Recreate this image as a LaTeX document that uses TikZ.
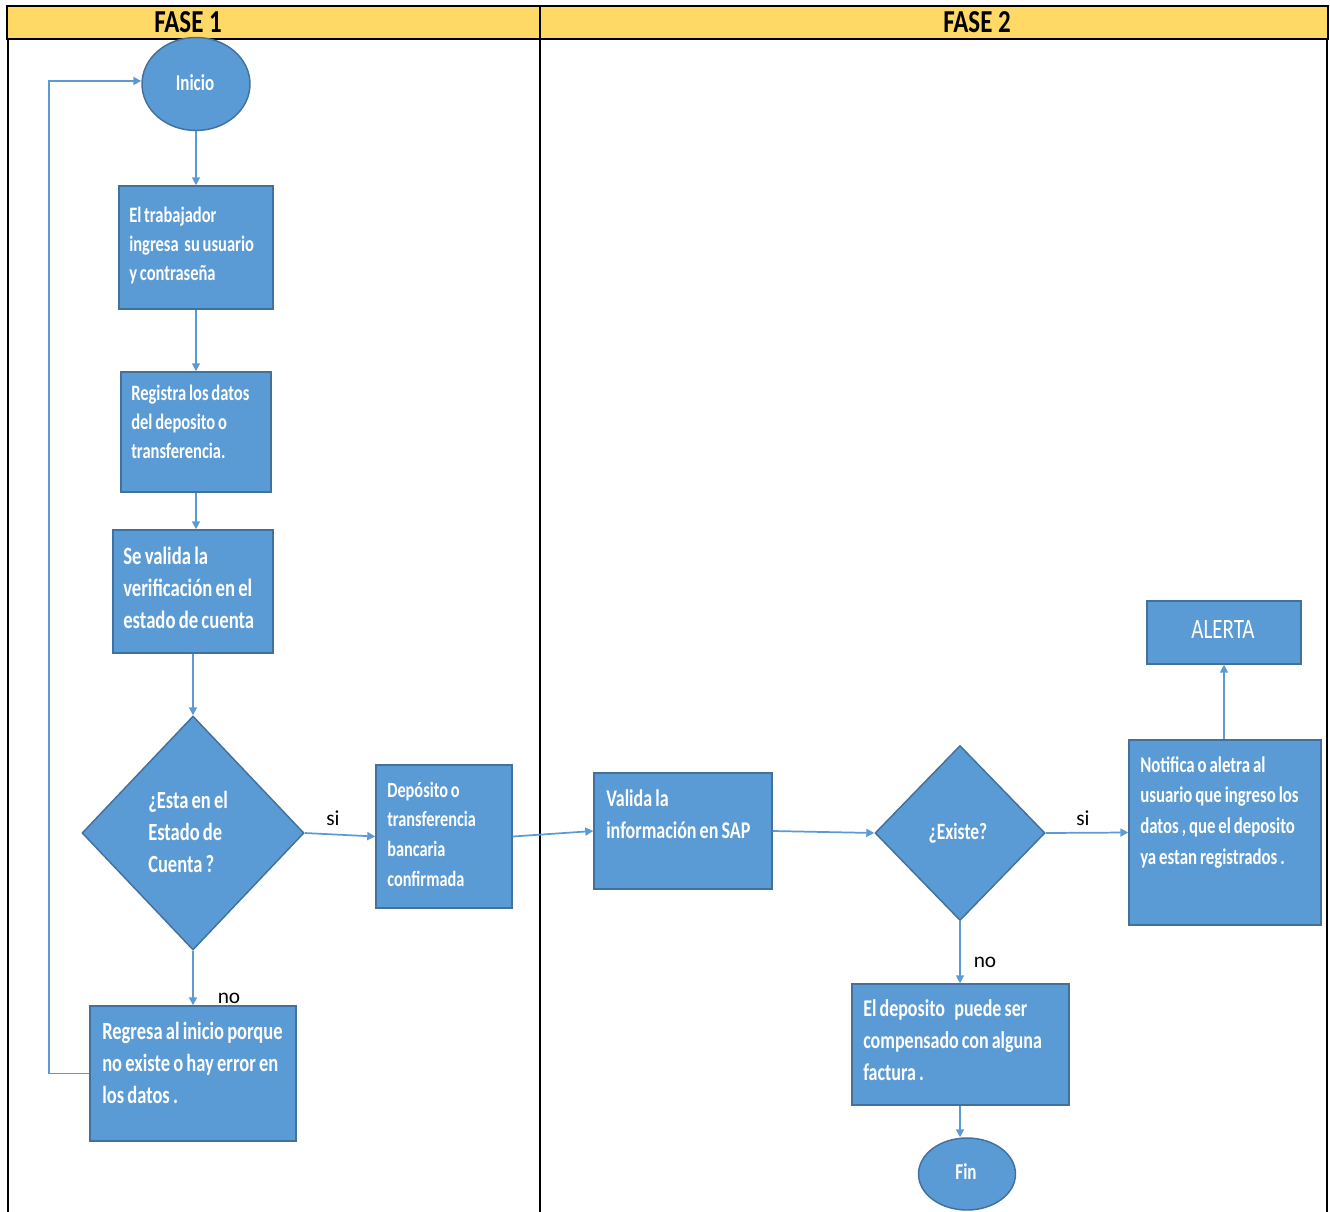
\documentclass[tikz,border=0pt]{standalone}
\usepackage{fontspec}
\setmainfont{Carlito}
\newfontfamily\cond[FakeStretch=0.75]{Carlito}
\newfontfamily\hdr[FakeStretch=0.78]{Carlito}
\newcommand\tightsp{\fontdimen2\font 0.13em\relax\spaceskip 0.13em plus 0.02em\relax\xspaceskip 0.15em\relax}
\usetikzlibrary{shapes.geometric,arrows.meta}
\definecolor{boxblue}{HTML}{5B9BD5}
\definecolor{boxedge}{HTML}{41719C}
\definecolor{hdryellow}{HTML}{FFD966}
\definecolor{arrowblue}{HTML}{5B9BD5}
\begin{document}
\begin{tikzpicture}[x=0.75pt,y=-0.75pt,
 box/.style={rectangle, draw=boxedge, fill=boxblue, line width=1.1pt, inner sep=0},
 dia/.style={diamond, draw=boxedge, fill=boxblue, line width=1.1pt, inner sep=0},
 ell/.style={ellipse, draw=boxedge, fill=boxblue, line width=1.1pt, inner sep=0},
 txt/.style n args={2}{text=white, inner sep=0, anchor=base west, text width=220pt, font=\cond\bfseries\fontsize{#1}{#2}\selectfont, execute at begin node=\tightsp},
 ctxt/.style={text=white, inner sep=0, anchor=center, font=\cond\bfseries\fontsize{#1}{#1}\selectfont},
 flow/.style={draw=arrowblue, line width=1.3pt, -{Triangle[width=6pt,length=6pt]}},
 lbl/.style={inner sep=0, text=black, font=\fontsize{16}{18}\selectfont},
 lane/.style={draw=black, line width=1.5pt},
 hdrtxt/.style={inner sep=0, text=black, font=\hdr\bfseries\fontsize{24}{24}\selectfont}]
\useasboundingbox (0,0) rectangle (1330,1212);
% swimlanes
\fill[hdryellow] (7,6) rectangle (1328,39);
\draw[lane] (7,6) rectangle (1328,39);
\draw[lane] (8,39) -- (8,1212);
\draw[lane] (540,6) -- (540,1212);
\draw[lane] (1327,39) -- (1327,1212);
\node[hdrtxt] (h1) at (188,22) {FASE 1};
\node[hdrtxt] (h2) at (977,22) {FASE 2};
% shapes
\node[ell, minimum width=108*0.75pt, minimum height=93*0.75pt] (inicio) at (196,84) {};
\node[ctxt=17] (inicio-t) at (195,83) {Inicio};
\node[box, minimum width=154*0.75pt, minimum height=123*0.75pt] (b1) at (196,247.5) {};
\node[txt={16.5}{21.75}] (b1-t) at (129,222.5) {El trabajador\\ingresa\ \ su usuario\\y contraseña};
\node[box, minimum width=150*0.75pt, minimum height=120*0.75pt] (b2) at (196,432) {};
\node[txt={16.5}{22}] (b2-t) at (131,400) {Registra los datos\\del deposito o\\transferencia.};
\node[box, minimum width=160*0.75pt, minimum height=123*0.75pt] (b3) at (193,591.5) {};
\node[txt={18.7}{24}] (b3-t) at (123,564) {Se valida la\\verificación en el\\estado de cuenta};
\node[dia, minimum width=222*0.75pt, minimum height=234*0.75pt] (d1) at (193,833) {};
\node[txt={18.5}{24}] (d1-t) at (148,808) {¿Esta en el\\Estado de\\Cuenta ?};
\node[box, minimum width=136*0.75pt, minimum height=143*0.75pt] (dep) at (444,836.5) {};
\node[txt={16.3}{22.3}] (dep-t) at (387,797) {Depósito o\\transferencia\\bancaria\\confirmada};
\node[box, minimum width=206*0.75pt, minimum height=135*0.75pt] (reg) at (193,1073.5) {};
\node[txt={18.5}{24}] (reg-t) at (102,1039) {Regresa al inicio porque\\no existe o hay error en\\los datos .};
\node[box, minimum width=178*0.75pt, minimum height=116*0.75pt] (val) at (683,831) {};
\node[txt={18}{24}] (val-t) at (606,806) {Valida la\\información en SAP};
\node[dia, minimum width=170*0.75pt, minimum height=175*0.75pt] (d2) at (960,833) {};
\node[ctxt=17.5] (d2-t) at (958,833) {¿Existe?};
\node[box, minimum width=192*0.75pt, minimum height=185*0.75pt] (noti) at (1225,832.5) {};
\node[txt={16.8}{23}] (noti-t) at (1140,772) {Notifica o aletra al\\usuario que ingreso los\\datos , que el deposito\\ya estan registrados .};
\node[box, minimum width=154*0.75pt, minimum height=63*0.75pt] (alerta) at (1224,632.5) {};
\node[text=white, inner sep=0, font=\cond\fontsize{21}{21}\selectfont] (alerta-t) at (1223,630) {ALERTA};
\node[box, minimum width=217*0.75pt, minimum height=121*0.75pt] (edep) at (960.5,1044.5) {};
\node[txt={18}{24}] (edep-t) at (863,1016) {El deposito\ \ \ puede ser\\compensado con alguna\\factura .};
\node[ell, minimum width=97*0.75pt, minimum height=72*0.75pt] (fin) at (967,1174) {};
\node[ctxt=17] (fin-t) at (966,1172) {Fin};
% labels
\node[lbl] (si1) at (333,818) {si};
\node[lbl] (si2) at (1083,818) {si};
\node[lbl] (no1) at (229,998) {no};
\node[lbl] (no2) at (985,962) {no};
% connectors
\coordinate (lp) at (49,1075);
\draw[flow] (inicio.south) -- (b1.north);
\draw[flow] (b1.south) -- (b2.north);
\draw[flow] (b2.south) -- (b2.south |- b3.north);
\draw[flow] (b3.south) -- (d1.north);
\draw[flow] (d1.south) -- (reg.north);
\draw[flow] (d1.east) -- (dep.west);
\draw[flow] (dep.east) -- (val.west);
\draw[flow] (val.east) -- (d2.west);
\draw[flow] (d2.east) -- (noti.west);
\draw[flow] (d2.south) -- (edep.north -| d2.south);
\draw[flow] (noti.north -| alerta.south) -- (alerta.south);
\draw[flow] (edep.south -| d2.south) -- (fin.north -| d2.south);
\draw[flow] (reg.west) -- (reg.west -| lp) |- ([yshift=2.25pt]inicio.west);
\end{tikzpicture}
\end{document}
